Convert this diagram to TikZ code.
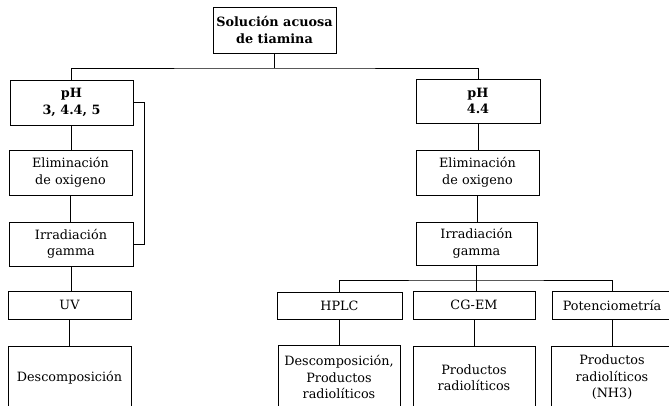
\documentclass[tikz,border=0pt]{standalone}
\usepackage{fontspec}
\setmainfont{DejaVu Serif}
\begin{document}
\begin{tikzpicture}[x=1pt,y=-1pt,
  box/.style={draw, line width=0.9pt, align=center, inner sep=0pt, font=\fontsize{12.8}{16.5}\selectfont},
  bbox/.style={box, font=\fontsize{12.8}{16.5}\selectfont\bfseries},
  conn/.style={line width=0.9pt}]
\useasboundingbox (0,0) rectangle (669,406);
\clip (0,0) rectangle (669,406);
\node[bbox, minimum width=123pt, minimum height=46pt] (top) at (274.5,30) {Solución acuosa\\de tiamina};
% left column
\node[bbox, minimum width=123pt, minimum height=45pt] (pHL) at (71.5,102.5) {pH\\3, 4.4, 5};
\node[box, minimum width=123pt, minimum height=45pt] (elimL) at (70.5,172.5) {Eliminación\\de oxigeno};
\node[box, minimum width=124pt, minimum height=44pt] (irrL) at (71,244) {Irradiación\\gamma};
\node[box, minimum width=123pt, minimum height=28pt] (uvL) at (69.5,305) {UV};
\node[box, minimum width=123pt, minimum height=63pt] (descL) at (69.5,377.5) {Descomposición};
% right column
\node[bbox, minimum width=124pt, minimum height=44pt] (pHR) at (478,101) {pH\\4.4};
\node[box, minimum width=123pt, minimum height=45pt] (elimR) at (477.5,172.5) {Eliminación\\de oxigeno};
\node[box, minimum width=121pt, minimum height=43pt] (irrR) at (476.5,243.5) {Irradiación\\gamma};
\node[box, minimum width=125pt, minimum height=27pt] (hplc) at (339.5,305.5) {HPLC};
\node[box, minimum width=122pt, minimum height=28pt] (cgem) at (474,305) {CG-EM};
\node[box, minimum width=120pt, minimum height=28pt] (pot) at (612,305) {Potenciometría};
\node[box, minimum width=122pt, minimum height=64pt] (descR) at (339,377) {Descomposición,\\Productos\\radiolíticos};
\node[box, minimum width=122pt, minimum height=63pt] (prodC) at (474,377.5) {Productos\\radiolíticos};
\node[box, minimum width=122pt, minimum height=63pt] (prodP) at (612,377.5) {Productos\\radiolíticos\\(NH3)};
% connectors
\coordinate (busT) at (274.5,68);
\coordinate (busB) at (476.5,280);
\draw[conn] (top) -- (busT);
\draw[conn] (pHL.north) |- (busT) -| (pHR.north);
\draw[conn] (pHL.south) -- (pHL.south |- elimL.north);
\draw[conn] (elimL.south) -- (elimL.south |- irrL.north);
\draw[conn] (irrL.south) -- (irrL.south |- uvL.north);
\draw[conn] (uvL) -- (descL);
\draw[conn] (pHL.east) -- ++(11,0) |- (irrL.east);
\draw[conn] (pHR.south) -- (pHR.south |- elimR.north);
\draw[conn] (elimR.south) -- (elimR.south |- irrR.north);
\draw[conn] (irrR.south) -- (irrR.south |- cgem.north);
\draw[conn] (hplc.north) |- (busB) -| (pot.north);
\draw[conn] (hplc.south) -- (hplc.south |- descR.north);
\draw[conn] (cgem) -- (prodC);
\draw[conn] (pot) -- (prodP);
\end{tikzpicture}
\end{document}
